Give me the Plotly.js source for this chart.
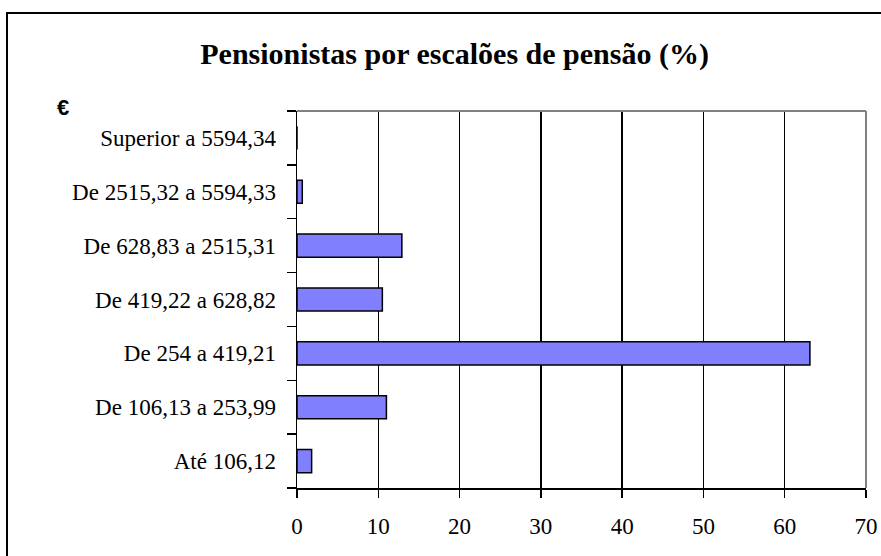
<!DOCTYPE html>
<html>
<head>
<meta charset="utf-8">
<script src="https://cdn.plot.ly/plotly-3.0.1.min.js"></script>
<style>
html, body { margin:0; padding:0; width:881px; height:556px; overflow:hidden; background:#fff; }
#chart { position:absolute; left:0; top:0; width:881px; height:556px; }
#frame { position:absolute; left:6px; top:12px; width:1000px; height:1000px; border-left:2px solid #000; border-top:2px solid #000; pointer-events:none; }
</style>
</head>
<body>
<div id="chart"></div>
<div id="frame"></div>
<script>
const categories = ["Até 106,12", "De 106,13 a 253,99", "De 254 a 419,21", "De 419,22 a 628,82", "De 628,83 a 2515,31", "De 2515,32 a 5594,33", "Superior a 5594,34"];
const values = [1.8, 11.0, 63.1, 10.5, 12.9, 0.65, 0];
const xTicks = [0, 10, 20, 30, 40, 50, 60, 70];

const SERIF = '"Liberation Serif", "Times New Roman", serif';

const trace = {
  type: 'bar',
  orientation: 'h',
  y: categories,
  x: values,
  marker: { color: '#8080FF', line: { color: '#000', width: 1.5 } },
  hoverinfo: 'none'
};

const layout = {
  width: 881, height: 556,
  margin: { l: 297, r: 15, t: 111, b: 68 },
  paper_bgcolor: '#fff', plot_bgcolor: '#fff',
  bargap: 0.57,
  showlegend: false,
  font: { family: SERIF, color: '#000' },
  title: {
    text: '<b>Pensionistas por escalões de pensão (%)</b>',
    font: { family: SERIF, size: 30, color: '#000' },
    x: 0.516, xref: 'container', xanchor: 'center',
    y: 0.903, yref: 'container', yanchor: 'middle'
  },
  xaxis: {
    range: [0, 70], tickvals: xTicks, ticktext: xTicks.map(String),
    showgrid: true, gridcolor: '#000', gridwidth: 1.5,
    showline: true, linecolor: '#000', linewidth: 1.5,
    ticks: 'outside', ticklen: 8, tickwidth: 1.5, tickcolor: '#000',
    ticklabelstandoff: 9,
    zeroline: false,
    tickfont: { family: SERIF, size: 23, color: '#000' }
  },
  yaxis: {
    type: 'category', categoryorder: 'array', categoryarray: categories,
    range: [-0.5, 6.5],
    showgrid: false, zeroline: false,
    showline: true, linecolor: '#000', linewidth: 1.5,
    ticks: 'outside', ticklen: 9, tickwidth: 1.5, tickcolor: '#000',
    tickson: 'boundaries',
    ticklabelstandoff: 15,
    tickfont: { family: SERIF, size: 23, color: '#000' }
  },
  shapes: [
    { type: 'line', xref: 'paper', yref: 'paper', x0: 0, x1: 1, y0: 1, y1: 1, line: { color: '#808080', width: 2 } },
    { type: 'line', xref: 'paper', yref: 'paper', x0: 1, x1: 1, y0: 0, y1: 1, line: { color: '#808080', width: 2 } }
  ],
  annotations: [
    { text: '<b>€</b>', xref: 'paper', yref: 'paper', x: -0.411, y: 1.0106, xanchor: 'center', yanchor: 'middle', showarrow: false,
      font: { family: '"Liberation Sans", Arial, sans-serif', size: 22, color: '#000' } }
  ]
};

Plotly.newPlot('chart', [trace], layout, { staticPlot: true, displayModeBar: false });
</script>
</body>
</html>
